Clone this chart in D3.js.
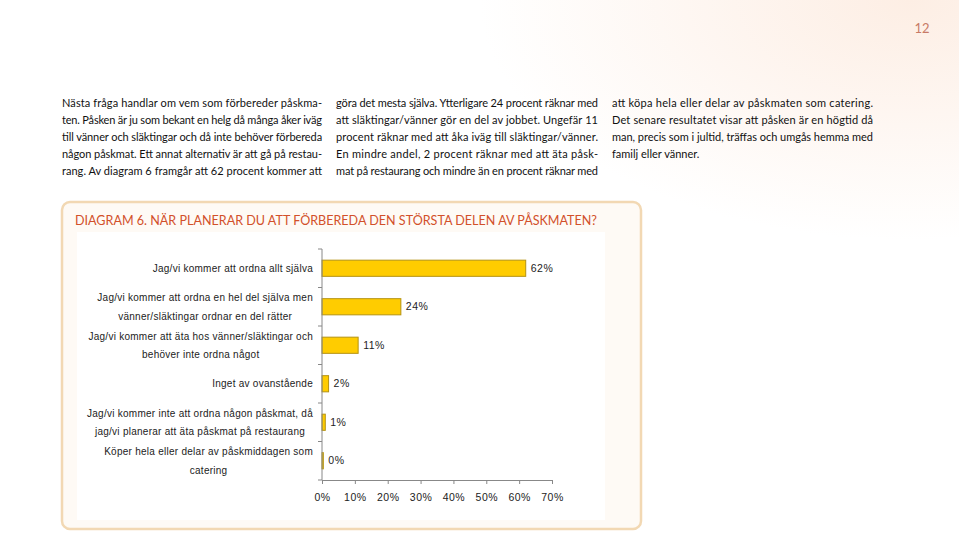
<!DOCTYPE html>
<html>
<head>
<meta charset="utf-8">
<script src="https://cdn.jsdelivr.net/npm/d3@7/dist/d3.min.js"></script>
<style>
  html, body { margin: 0; padding: 0; background: #fff; }
  svg { display: block; }
</style>
</head>
<body>
<div id="chart"></div>
<script>
const W = 959, H = 534;

// ── Data ────────────────────────────────────────────────────────────────────
const categories = [
  ['Jag/vi kommer att ordna allt själva'],
  ['Jag/vi kommer att ordna en hel del själva men', 'vänner/släktingar ordnar en del rätter'],
  ['Jag/vi kommer att äta hos vänner/släktingar och', 'behöver inte ordna något'],
  ['Inget av ovanstående'],
  ['Jag/vi kommer inte att ordna någon påskmat, då', 'jag/vi planerar att äta påskmat på restaurang'],
  ['Köper hela eller delar av påskmiddagen som', 'catering']
];
const values = [62, 24, 11, 2, 1, 0.4];
const xTicks = [0, 10, 20, 30, 40, 50, 60, 70];

const title = 'DIAGRAM 6. NÄR PLANERAR DU ATT FÖRBEREDA DEN STÖRSTA DELEN AV PÅSKMATEN?';

const col1 = [
  'Nästa fråga handlar om vem som förbereder påskma-',
  'ten. Påsken är ju som bekant en helg då många åker iväg',
  'till vänner och släktingar och då inte behöver förbereda',
  'någon påskmat. Ett annat alternativ är att gå på restau-',
  'rang. Av diagram 6 framgår att 62 procent kommer att'
];
const col2 = [
  'göra det mesta själva. Ytterligare 24 procent räknar med',
  'att släktingar/vänner gör en del av jobbet. Ungefär 11',
  'procent räknar med att åka iväg till släktingar/vänner.',
  'En mindre andel, 2 procent räknar med att äta påsk-',
  'mat på restaurang och mindre än en procent räknar med'
];
const col3 = [
  'att köpa hela eller delar av påskmaten som catering.',
  'Det senare resultatet visar att påsken är en högtid då',
  'man, precis som i jultid, träffas och umgås hemma med',
  'familj eller vänner.'
];

// ── SVG ─────────────────────────────────────────────────────────────────────
const svg = d3.select('#chart').append('svg')
  .attr('width', W).attr('height', H);

const defs = svg.append('defs');
const bg = defs.append('radialGradient').attr('id', 'bg')
  .attr('cx', '95%').attr('cy', '0%').attr('r', '45%');
bg.append('stop').attr('offset', '0%').attr('stop-color', '#fdeee4');
bg.append('stop').attr('offset', '100%').attr('stop-color', '#ffffff');

svg.append('rect').attr('width', W).attr('height', H).attr('fill', 'url(#bg)');

// page number
svg.append('text')
  .attr('x', 922).attr('y', 33)
  .attr('text-anchor', 'middle')
  .attr('font-family', 'Lato, sans-serif')
  .attr('font-size', 13)
  .attr('fill', '#c87a66')
  .text('12');

// ── Body text columns ───────────────────────────────────────────────────────
const columns = [
  { x: 62,  w: 260, lines: col1, full: 5 },
  { x: 336, w: 262, lines: col2, full: 5 },
  { x: 612, w: 261, lines: col3, full: 3 }
];
columns.forEach(c => {
  svg.append('g').selectAll('text')
    .data(c.lines)
    .join('text')
    .attr('x', c.x)
    .attr('y', (d, i) => 107 + i * 17)
    .attr('font-family', 'Lato, sans-serif')
    .attr('font-size', 11)
    .attr('fill', '#111')
    .attr('textLength', (d, i) => i < c.full ? c.w : null)
    .attr('lengthAdjust', 'spacing')
    .text(d => d);
});

// ── Panel ───────────────────────────────────────────────────────────────────
svg.append('rect')
  .attr('x', 62).attr('y', 202).attr('width', 579).attr('height', 327)
  .attr('rx', 8)
  .attr('fill', '#fefaf5')
  .attr('stroke', '#f2d8b3').attr('stroke-width', 2.5);

svg.append('rect')
  .attr('x', 77).attr('y', 232).attr('width', 528).attr('height', 288)
  .attr('fill', '#ffffff');

svg.append('text')
  .attr('x', 75).attr('y', 225)
  .attr('font-family', 'Lato, sans-serif')
  .attr('font-size', 13)
  .attr('fill', '#d2502a')
  .attr('textLength', 522)
  .attr('lengthAdjust', 'spacingAndGlyphs')
  .text(title);

// ── Chart ───────────────────────────────────────────────────────────────────
const x = d3.scaleLinear().domain([0, 70]).range([322, 552]);
const y = d3.scaleBand().domain(d3.range(categories.length))
  .range([249, 480]).paddingInner(0.58).paddingOuter(0.29);

const fontFam = '"Liberation Sans", Arial, sans-serif';

const g = svg.append('g');

// bars
g.selectAll('.bar')
  .data(values)
  .join('rect')
  .attr('class', 'bar')
  .attr('x', x(0))
  .attr('y', (d, i) => y(i))
  .attr('width', d => x(d) - x(0))
  .attr('height', y.bandwidth())
  .attr('fill', '#ffcc00')
  .attr('stroke', '#b59312')
  .attr('stroke-width', 1);

// value labels
g.selectAll('.val')
  .data(values)
  .join('text')
  .attr('class', 'val')
  .attr('x', d => x(d) + 5)
  .attr('y', (d, i) => y(i) + y.bandwidth() / 2)
  .attr('dy', '0.35em')
  .attr('font-family', fontFam)
  .attr('font-size', 10.5)
  .attr('letter-spacing', 0.5)
  .attr('fill', '#222')
  .text(d => Math.round(d) + '%');

// y axis line + category ticks
const yStart = 249, yEnd = 480;
g.append('line')
  .attr('x1', x(0)).attr('x2', x(0))
  .attr('y1', yStart).attr('y2', yEnd)
  .attr('stroke', '#888');
g.selectAll('.ytick')
  .data(d3.range(categories.length + 1))
  .join('line')
  .attr('class', 'ytick')
  .attr('x1', x(0) - 4).attr('x2', x(0))
  .attr('y1', i => yStart + i * ((yEnd - yStart) / categories.length))
  .attr('y2', i => yStart + i * ((yEnd - yStart) / categories.length))
  .attr('stroke', '#888');

// category labels: lines centred on each other, block right edge at 313
const catLabels = g.selectAll('.cat')
  .data(categories)
  .join('text')
  .attr('class', 'cat')
  .attr('text-anchor', 'middle')
  .attr('font-family', fontFam)
  .attr('font-size', 10)
  .attr('letter-spacing', 0.26)
  .attr('fill', '#222');

catLabels.each(function (lines, i) {
  const cy = y(i) + y.bandwidth() / 2;
  const spans = d3.select(this).selectAll('tspan')
    .data(lines)
    .join('tspan')
    .attr('x', 0)
    .attr('y', (d, j) => cy + (j - (lines.length - 1) / 2) * 18.5)
    .attr('dy', '0.35em')
    .text(d => d);
  let maxW = 0;
  spans.each(function () { maxW = Math.max(maxW, this.getComputedTextLength()); });
  spans.attr('x', 313 - maxW / 2);
});

// x axis
const xAxis = d3.axisBottom(x)
  .tickValues(xTicks)
  .tickFormat(d => d + '%')
  .tickSize(4)
  .tickPadding(10);

const ax = svg.append('g')
  .attr('transform', `translate(0,${yEnd})`)
  .call(xAxis);
ax.select('.domain').attr('stroke', '#888');
ax.selectAll('.tick line').attr('stroke', '#888');
ax.selectAll('.tick text')
  .attr('font-family', fontFam)
  .attr('font-size', 10.5)
  .attr('letter-spacing', 0.5)
  .attr('fill', '#222');
</script>
</body>
</html>
